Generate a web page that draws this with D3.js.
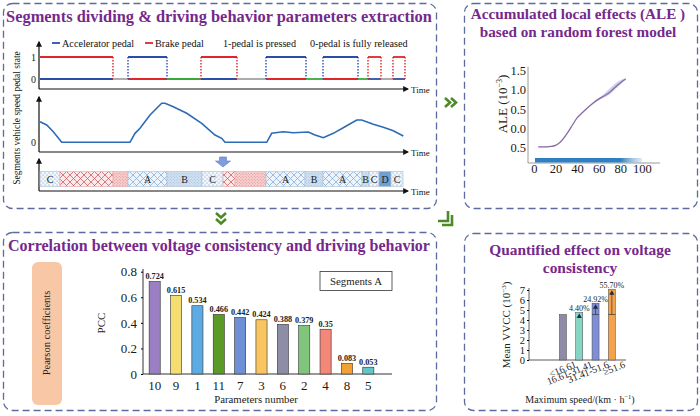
<!DOCTYPE html>
<html>
<head>
<meta charset="utf-8">
<script src="https://cdn.jsdelivr.net/npm/d3@7"></script>
<style>
	html, body { margin: 0; padding: 0; background: #fff; }
	svg { display: block; }
	svg text { font-family: "Liberation Serif", "Times New Roman", Times, "DejaVu Serif", serif; }
</style>
</head>
<body>
<div id="chart"></div>
<script>
// ---- pedal states (time in s) ----
const pedalTimes = [0, 73, 88, 127, 161, 197, 226, 266, 283, 318, 328, 341, 353, 365];
const pedalStates = ["brake", "idle", "accel", "coast", "brake", "idle", "accel", "coast", "accel", "coast", "brake", "idle", "brake"];

// ---- vehicle speed (km/h) ----
const speedTimes = [0, 6.7, 13.3, 21.7, 90, 95, 100, 110, 121.7, 125, 133.3, 146.7, 161.7, 175, 181.7, 185,
	226.7, 231.7, 243.3, 253.3, 268.3, 275, 283.3, 293.3, 305, 316.7, 321.7, 333.3, 343.3, 353.3, 363.3];
const speedValues = [31.7, 26.6, 16.3, 0, 0, 13.8, 21.5, 42, 60, 60, 54.8, 44.6, 29.2, 11.2, 6.2, 0,
	0, 13.8, 16.3, 14.8, 15.8, 11.2, 7.1, 13.8, 24, 34.3, 34.3, 27.7, 23.1, 17.8, 9.7];

// ---- segments ----
const segmentTimes = [0, 20, 73, 88, 127, 162, 183, 195, 226, 265, 283, 322, 329, 339, 351, 363];
const segmentTypes = ["C", "R1", "R2", "A", "B", "C", "R1", "R2", "A", "B", "A", "B", "C", "D", "C"];

// ---- ALE ----
const aleSpeeds = [4, 8, 12, 16, 20, 24, 28, 32, 36, 40, 45, 50, 55, 60, 65, 70, 75, 80, 85];
const aleValues = [-0.48, -0.48, -0.48, -0.47, -0.44, -0.37, -0.24, -0.08, 0.1, 0.27, 0.41, 0.54, 0.66, 0.76, 0.84, 0.93, 1.06, 1.18, 1.28];
const aleUpper = [-0.47, -0.47, -0.47, -0.46, -0.43, -0.36, -0.23, -0.07, 0.11, 0.28, 0.42, 0.55, 0.68, 0.79, 0.9, 1.03, 1.16, 1.25, 1.3];
const aleLower = [-0.49, -0.49, -0.49, -0.48, -0.45, -0.38, -0.25, -0.09, 0.09, 0.26, 0.4, 0.53, 0.64, 0.73, 0.8, 0.88, 1.0, 1.13, 1.26];
const aleTicks = [-0.5, 0, 0.5, 1.0, 1.5];
const aleXTicks = [0, 20, 40, 60, 80, 100];
const rugExtent = [1, 100];

// ---- PCC ----
const paramNumbers = ["10", "9", "1", "11", "7", "3", "6", "2", "4", "8", "5"];
const pccValues = [0.724, 0.615, 0.534, 0.466, 0.442, 0.424, 0.388, 0.379, 0.35, 0.083, 0.053];
const pccColors = ["#9a80c2", "#f4de72", "#5eaae2", "#5b9a27", "#6e90d6", "#f8c560", "#8e8da6", "#7fc67c", "#f2877a", "#f2a233", "#62c6c8"];
const pccTicks = [0, 0.2, 0.4, 0.6, 0.8];

// ---- VVCC ----
const speedGroups = ["<16.61", "16.61-31.41", "31.41-51.6", "≥51.6"];
const meanVVCC = [4.55, 4.75, 5.68, 7.08];
const vvccIncrease = ["", "4.40%", "24.92%", "55.70%"];
const vvccColors = ["#8e8aa8", "#88d5c5", "#7f8fd7", "#f6a24d"];

const W = 700, H = 416;
const purple = "#75298c";
const green = "#4b8b25";
const serif = "'Liberation Serif', 'Times New Roman', Times, 'DejaVu Serif', serif";

const svg = d3.select("#chart").append("svg")
	.attr("width", W).attr("height", H)
	.attr("font-family", serif);
const defs = svg.append("defs");

defs.append("marker")
	.attr("id", "arrow")
	.attr("viewBox", "0 0 10 10")
	.attr("refX", 8).attr("refY", 5)
	.attr("markerWidth", 5).attr("markerHeight", 5)
	.attr("orient", "auto")
	.append("path").attr("d", "M0,0L10,5L0,10z").attr("fill", "#111");

function addPattern(id, size, bg, draw) {
	const p = defs.append("pattern").attr("id", id)
		.attr("patternUnits", "userSpaceOnUse")
		.attr("width", size).attr("height", size);
	p.append("rect").attr("width", size).attr("height", size).attr("fill", bg);
	draw(p, size);
}
const dots = color => (p, s) => {
	p.append("circle").attr("cx", s / 4).attr("cy", s / 4).attr("r", 0.55).attr("fill", color);
	p.append("circle").attr("cx", 3 * s / 4).attr("cy", 3 * s / 4).attr("r", 0.55).attr("fill", color);
};
const hatch = color => (p, s) => {
	p.append("path").attr("d", `M0,0L${s},${s}M${s},0L0,${s}`).attr("stroke", color).attr("stroke-width", 0.8);
};
addPattern("dotsBlue", 4, "#f1f6fb", dots("#6f94bf"));
addPattern("hatchRed", 7, "#fbeaea", hatch("#d65a5f"));
addPattern("dotsRed", 3, "#f7d3d3", dots("#e08080"));
addPattern("hatchBlue", 7, "#eef4fb", hatch("#86afd8"));
addPattern("dotsB", 3, "#d4e3f2", dots("#9ab8d8"));

const rugGrad = defs.append("linearGradient").attr("id", "rugGrad");
rugGrad.append("stop").attr("offset", "0%").attr("stop-color", "#2f7fc1").attr("stop-opacity", 1);
rugGrad.append("stop").attr("offset", "80%").attr("stop-color", "#2f7fc1").attr("stop-opacity", 1);
rugGrad.append("stop").attr("offset", "100%").attr("stop-color", "#8fb8dc").attr("stop-opacity", 0.3);

// panels
const panels = [
	{ x: 3.5, y: 3.5, w: 433, h: 205 },
	{ x: 464.5, y: 3.5, w: 233, h: 205 },
	{ x: 3.5, y: 232.5, w: 433, h: 178 },
	{ x: 464.5, y: 233.5, w: 233, h: 177 }
];
svg.selectAll("rect.panel").data(panels).join("rect")
	.attr("class", "panel")
	.attr("x", d => d.x).attr("y", d => d.y)
	.attr("width", d => d.w).attr("height", d => d.h)
	.attr("rx", 9)
	.attr("fill", "none")
	.attr("stroke", "#5e6a9e")
	.attr("stroke-width", 1.3)
	.attr("stroke-dasharray", "7,4");

function title(lines, cx, y0, size, gap) {
	lines.forEach((t, i) => {
		svg.append("text")
			.attr("x", cx).attr("y", y0 + i * gap)
			.attr("text-anchor", "middle")
			.attr("font-weight", "bold")
			.attr("font-size", size)
			.attr("fill", purple)
			.text(t);
	});
}
title(["Segments dividing & driving behavior parameters extraction"], 219, 22, 16.4, 0);
title(["Accumulated local effects (ALE )", "based on random forest model"], 578, 19, 15.2, 18);
title(["Correlation between voltage consistency and driving behavior"], 219, 251, 16, 0);
title(["Quantified effect on voltage", "consistency"], 580, 255, 15.4, 18);

function styleAxisText(sel, size) {
	sel.selectAll("text").attr("font-size", size).attr("font-family", serif).attr("fill", "#1a1a1a");
}

function arrowAxes(g, x0, x1, yBottom, yTop) {
	g.append("line").attr("x1", x0).attr("x2", x0).attr("y1", yBottom).attr("y2", yTop)
		.attr("stroke", "#111").attr("stroke-width", 1.2).attr("marker-end", "url(#arrow)");
	g.append("line").attr("x1", x0).attr("x2", x1).attr("y1", yBottom).attr("y2", yBottom)
		.attr("stroke", "#111").attr("stroke-width", 1.2).attr("marker-end", "url(#arrow)");
	g.append("text").attr("x", x1 + 3).attr("y", yBottom + 3.5)
		.attr("font-size", 9).attr("fill", "#111").text("Time");
}

// ================= panel 1 =================
function drawSegmentsPanel() {
	const g = svg.append("g");
	const x = d3.scaleLinear().domain([0, 365]).range([40, 405]);

	// legend
	const legend = [
		{ x: 52, color: "#2b4fa8", text: "Accelerator pedal" },
		{ x: 145, color: "#e0262b", text: "Brake pedal" },
		{ x: 223, color: null, text: "1-pedal is pressed" },
		{ x: 310, color: null, text: "0-pedal is fully released" }
	];
	legend.forEach(l => {
		let tx = l.x;
		if (l.color) {
			g.append("line").attr("x1", l.x).attr("x2", l.x + 8).attr("y1", 43).attr("y2", 43)
				.attr("stroke", l.color).attr("stroke-width", 1.8);
			tx = l.x + 10;
		}
		g.append("text").attr("x", tx).attr("y", 46.5).attr("font-size", 10.2).attr("fill", "#111").text(l.text);
	});

	// pedal state
	const yP = d3.scaleLinear().domain([0, 1]).range([79, 57]);
	arrowAxes(g, 39, 408, 89, 42);
	g.append("g").attr("transform", "translate(36,0)")
		.call(d3.axisLeft(yP).tickValues([0, 1]).tickFormat(d3.format("d")).tickSize(0).tickPadding(0))
		.call(a => a.select(".domain").remove())
		.call(a => styleAxisText(a, 10));

	const colors = { accel: "#2b4fa8", brake: "#e0262b", idle: "#a3a3a3", coast: "#3aa83a" };
	pedalStates.forEach((s, i) => {
		const x0 = x(pedalTimes[i]), x1 = x(pedalTimes[i + 1]);
		const seg = (y, c) => g.append("line").attr("x1", x0).attr("x2", x1).attr("y1", y).attr("y2", y)
			.attr("stroke", c).attr("stroke-width", 1.8);
		const vert = (xx, c) => g.append("line").attr("x1", xx).attr("x2", xx).attr("y1", yP(1)).attr("y2", yP(0))
			.attr("stroke", c).attr("stroke-width", 1.4).attr("stroke-dasharray", "1.6,1.4");
		if (s === "brake" || s === "accel") {
			const hi = colors[s];
			const lo = s === "brake" ? colors.accel : colors.brake;
			seg(yP(0), lo);
			seg(yP(1), hi);
			if (pedalTimes[i] > 0) vert(x0, hi);
			vert(x1, hi);
		} else {
			seg(yP(0), colors[s]);
		}
	});

	// speed
	const yS = d3.scaleLinear().domain([0, 60]).range([142.3, 103.3]);
	arrowAxes(g, 39, 408, 152, 97);
	g.append("g").attr("transform", "translate(36,0)")
		.call(d3.axisLeft(yS).tickValues([0]).tickSize(0).tickPadding(0))
		.call(a => a.select(".domain").remove())
		.call(a => styleAxisText(a, 10));
	const line = d3.line().x((d, i) => x(speedTimes[i])).y(d => yS(d));
	g.append("path").attr("d", line(speedValues))
		.attr("fill", "none").attr("stroke", "#2c6bb5").attr("stroke-width", 1.6);

	// segments strip
	arrowAxes(g, 39, 408, 191, 159);
	const fills = { C: "url(#dotsBlue)", R1: "url(#hatchRed)", R2: "url(#dotsRed)", A: "url(#hatchBlue)", B: "url(#dotsB)", D: "#6fa0d2" };
	const segs = segmentTypes.map((t, i) => ({ t, x0: x(segmentTimes[i]), x1: x(segmentTimes[i + 1]) }));
	g.selectAll("rect.seg").data(segs).join("rect")
		.attr("class", "seg")
		.attr("x", d => d.x0).attr("y", 171.5)
		.attr("width", d => d.x1 - d.x0).attr("height", 15)
		.attr("fill", d => fills[d.t])
		.attr("stroke", d => d.t[0] === "R" ? "#e3a9ab" : "#a9c0d8")
		.attr("stroke-width", 0.6);
	g.selectAll("text.seg").data(segs.filter(d => d.t[0] !== "R")).join("text")
		.attr("class", "seg")
		.attr("x", d => (d.x0 + d.x1) / 2).attr("y", 182.5)
		.attr("text-anchor", "middle").attr("font-size", 10).attr("fill", "#222")
		.text(d => d.t);

	// down arrow
	g.append("path").attr("d", "M219.5,157L226.5,157L226.5,161L230.5,161L223,167L215.5,161L219.5,161Z")
		.attr("fill", "#7e9de0").attr("stroke", "#5c78c2").attr("stroke-width", 0.6);

	g.append("text")
		.attr("transform", "translate(20,118) rotate(-90)")
		.attr("text-anchor", "middle").attr("font-size", 9.5).attr("fill", "#111")
		.text("Segments vehicle speed pedal state");
}

// ================= panel 2 =================
function drawAlePanel() {
	const g = svg.append("g");
	const x = d3.scaleLinear().domain([-5.5, 115]).range([528, 658]);
	const y = d3.scaleLinear().domain([-0.9, 1.6]).range([163, 66.75]);

	g.append("line").attr("x1", 528).attr("x2", 528).attr("y1", y(-0.9)).attr("y2", y(1.6))
		.attr("stroke", "#9a9a9a").attr("stroke-width", 1);
	g.append("line").attr("x1", 528).attr("x2", 660).attr("y1", 163).attr("y2", 163)
		.attr("stroke", "#9a9a9a").attr("stroke-width", 1);

	g.append("g").attr("transform", "translate(526,0)")
		.call(d3.axisLeft(y).tickValues(aleTicks).tickSize(0).tickPadding(0).tickFormat(d => d3.format(".1f")(Math.abs(d))))
		.call(a => a.select(".domain").remove())
		.call(a => styleAxisText(a, 12.5));
	g.append("g").attr("transform", "translate(0,163)")
		.call(d3.axisBottom(x).tickValues(aleXTicks).tickSize(0).tickPadding(1))
		.call(a => a.select(".domain").remove())
		.call(a => styleAxisText(a, 12.5));

	g.append("rect")
		.attr("x", x(rugExtent[0])).attr("y", 158)
		.attr("width", x(rugExtent[1]) - x(rugExtent[0])).attr("height", 4.5)
		.attr("fill", "url(#rugGrad)");

	const area = d3.area().x((d, i) => x(aleSpeeds[i])).y0((d, i) => y(aleLower[i])).y1(d => y(d)).curve(d3.curveMonotoneX);
	g.append("path").attr("d", area(aleUpper)).attr("fill", "#b9c3ea").attr("opacity", 0.75);
	const line = d3.line().x((d, i) => x(aleSpeeds[i])).y(d => y(d)).curve(d3.curveMonotoneX);
	g.append("path").attr("d", line(aleValues))
		.attr("fill", "none").attr("stroke", "#8a6aa6").attr("stroke-width", 1.3);

	const lab = g.append("text")
		.attr("transform", "translate(507,104) rotate(-90)")
		.attr("text-anchor", "middle").attr("font-size", 13).attr("fill", "#222");
	lab.append("tspan").text("ALE (10");
	lab.append("tspan").attr("font-size", 8).attr("dy", -5).text("−3");
	lab.append("tspan").attr("dy", 5).text(")");
}

// ================= panel 3 =================
function drawPccPanel() {
	const g = svg.append("g");
	g.append("rect").attr("x", 32).attr("y", 262).attr("width", 30).attr("height", 143).attr("rx", 6)
		.attr("fill", "#f8c8a6");
	g.append("text")
		.attr("transform", "translate(50,333) rotate(-90)")
		.attr("text-anchor", "middle").attr("font-size", 10.5).attr("fill", "#222")
		.text("Pearson coefficients");

	const x = d3.scaleBand().domain(paramNumbers).range([144, 379]).paddingInner(0.48).paddingOuter(0.24);
	const y = d3.scaleLinear().domain([0, 0.8]).range([374, 271.7]);

	g.append("line").attr("x1", 143).attr("x2", 143).attr("y1", 374).attr("y2", 269)
		.attr("stroke", "#333").attr("stroke-width", 1);
	g.append("line").attr("x1", 143).attr("x2", 392).attr("y1", 374).attr("y2", 374)
		.attr("stroke", "#333").attr("stroke-width", 1);
	g.append("g").attr("transform", "translate(143,0)")
		.call(d3.axisLeft(y).tickValues(pccTicks).tickSize(2).tickPadding(4)
			.tickFormat(d => d === 0 ? "0" : d3.format(".1f")(d)))
		.call(a => a.select(".domain").remove())
		.call(a => styleAxisText(a, 13));
	g.append("g").attr("transform", "translate(0,374)")
		.call(d3.axisBottom(x).tickSize(0).tickPadding(7))
		.call(a => a.select(".domain").remove())
		.call(a => styleAxisText(a, 13));

	const bars = paramNumbers.map((p, i) => ({ p, v: pccValues[i], c: pccColors[i] }));
	g.selectAll("rect.bar").data(bars).join("rect")
		.attr("class", "bar")
		.attr("x", d => x(d.p)).attr("y", d => y(d.v))
		.attr("width", x.bandwidth()).attr("height", d => y(0) - y(d.v))
		.attr("fill", d => d.c).attr("stroke", "#333").attr("stroke-width", 0.6);
	g.selectAll("text.val").data(bars).join("text")
		.attr("class", "val")
		.attr("x", d => x(d.p) + x.bandwidth() / 2).attr("y", d => y(d.v) - 2.5)
		.attr("text-anchor", "middle").attr("font-size", 8.2).attr("font-weight", "bold").attr("fill", "#222")
		.text(d => d.v);

	g.append("text").attr("transform", "translate(105,323) rotate(-90)")
		.attr("text-anchor", "middle").attr("font-size", 11).attr("fill", "#222").text("PCC");
	g.append("text").attr("x", 256).attr("y", 403)
		.attr("text-anchor", "middle").attr("font-size", 10.8).attr("fill", "#222").text("Parameters number");

	g.append("rect").attr("x", 320).attr("y", 271.5).attr("width", 72).attr("height", 19)
		.attr("fill", "#fff").attr("stroke", "#333").attr("stroke-width", 0.8);
	g.append("text").attr("x", 356).attr("y", 284.5)
		.attr("text-anchor", "middle").attr("font-size", 10.8).attr("fill", "#222").text("Segments A");
}

// ================= panel 4 =================
function drawVvccPanel() {
	const g = svg.append("g");
	const x = d3.scaleBand().domain(speedGroups).range([554.8, 620]).paddingInner(0.57).paddingOuter(0.285);
	const y = d3.scaleLinear().domain([0, 7]).range([360, 290]);

	g.append("line").attr("x1", 529).attr("x2", 529).attr("y1", 360).attr("y2", 288)
		.attr("stroke", "#333").attr("stroke-width", 0.8);
	g.append("line").attr("x1", 529).attr("x2", 626).attr("y1", 360).attr("y2", 360)
		.attr("stroke", "#333").attr("stroke-width", 0.8);
	g.append("g").attr("transform", "translate(529,0)")
		.call(d3.axisLeft(y).ticks(7).tickSize(2).tickPadding(2))
		.call(a => a.select(".domain").remove())
		.call(a => styleAxisText(a, 10.5));

	const bars = speedGroups.map((s, i) => ({ s, v: meanVVCC[i], c: vvccColors[i], inc: vvccIncrease[i] }));
	const cx = d => x(d.s) + x.bandwidth() / 2;
	g.selectAll("rect.bar").data(bars).join("rect")
		.attr("class", "bar")
		.attr("x", d => x(d.s)).attr("y", d => y(d.v))
		.attr("width", x.bandwidth()).attr("height", d => y(0) - y(d.v))
		.attr("fill", d => d.c).attr("stroke", "#444").attr("stroke-width", 0.5);

	const base = meanVVCC[0];
	const up = bars.filter(d => d.inc);
	up.filter(d => d.v - base > 0.5).forEach(d => {
		g.append("line").attr("x1", x(d.s)).attr("x2", x(d.s) + x.bandwidth()).attr("y1", y(base)).attr("y2", y(base))
			.attr("stroke", "#333").attr("stroke-width", 0.7);
		g.append("line").attr("x1", cx(d)).attr("x2", cx(d)).attr("y1", y(base)).attr("y2", y(d.v) + 4)
			.attr("stroke", "#333").attr("stroke-width", 0.7);
	});
	g.selectAll("path.tri").data(up).join("path")
		.attr("class", "tri")
		.attr("d", d => `M${cx(d)},${y(d.v) + 1}l2.6,4.5l-5.2,0z`)
		.attr("fill", "#1f2a44");
	g.selectAll("text.inc").data(up).join("text")
		.attr("class", "inc")
		.attr("x", cx).attr("y", d => y(d.v) - 1.5)
		.attr("text-anchor", "middle").attr("font-size", 8).attr("fill", "#222")
		.text(d => d.inc);

	g.selectAll("text.cat").data(bars).join("text")
		.attr("class", "cat")
		.attr("transform", d => `translate(${cx(d) + 14},367) rotate(-22)`)
		.attr("text-anchor", "end").attr("font-size", 10).attr("fill", "#222")
		.text(d => d.s);

	const yl = g.append("text").attr("transform", "translate(510,325) rotate(-90)")
		.attr("text-anchor", "middle").attr("font-size", 11).attr("fill", "#222");
	yl.append("tspan").text("Mean VVCC (10");
	yl.append("tspan").attr("font-size", 7).attr("dy", -4).text("−3");
	yl.append("tspan").attr("dy", 4).text(")");

	const xl = g.append("text").attr("x", 580).attr("y", 403)
		.attr("text-anchor", "middle").attr("font-size", 10).attr("fill", "#222");
	xl.append("tspan").text("Maximum speed/(km · h");
	xl.append("tspan").attr("font-size", 6.5).attr("dy", -4).text("−1");
	xl.append("tspan").attr("dy", 4).text(")");
}

// connector chevrons
function drawConnectors() {
	const paths = [
		"M445,98L450,102.5L445,107", "M451,98L456,102.5L451,107",
		"M216,213L221,217.5L226,213", "M216,219L221,223.5L226,219",
		"M448,211L448,221L438,221", "M452,215L452,225L442,225"
	];
	svg.selectAll("path.conn").data(paths).join("path")
		.attr("class", "conn")
		.attr("d", d => d)
		.attr("fill", "none").attr("stroke", green).attr("stroke-width", 2.6);
}

drawSegmentsPanel();
drawAlePanel();
drawPccPanel();
drawVvccPanel();
drawConnectors();
</script>
</body>
</html>
